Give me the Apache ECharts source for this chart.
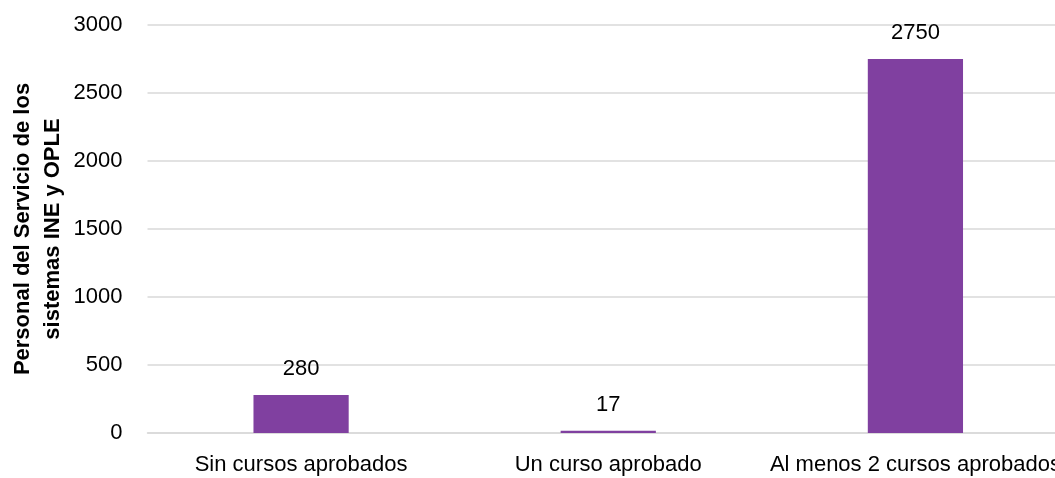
<!DOCTYPE html>
<html>
<head>
<meta charset="utf-8">
<script src="https://cdn.jsdelivr.net/npm/echarts@6/dist/echarts.min.js"></script>
<style>
  html, body { margin: 0; padding: 0; background: #fff; }
  #chart { width: 1055px; height: 478px; }
</style>
</head>
<body>
<div id="chart"></div>
<script>
// datos del grafico
const categorias = ['Sin cursos aprobados', 'Un curso aprobado', 'Al menos 2 cursos aprobados']
const personal = [280, 17, 2750]
const ejeNombre = 'Personal del Servicio de los\nsistemas INE y OPLE'

const fuente = '"Liberation Sans", Arial, sans-serif'

const chart = echarts.init(document.getElementById('chart'), null, { renderer: 'canvas' })

chart.setOption({
  animation: false,
  textStyle: { fontFamily: fuente },
  grid: {
    top: 25,
    left: 147.5,
    right: -14,
    bottom: 45,
    containLabel: false,
    outerBoundsMode: 'none',
  },
  xAxis: {
    type: 'category',
    data: categorias,
    axisLine: { show: true, lineStyle: { color: '#d9d9d9', width: 1.5 } },
    axisTick: { show: false },
    axisLabel: {
      color: '#000',
      fontSize: 22,
      fontFamily: fuente,
      margin: 21,
      interval: 0,
      hideOverlap: false,
    },
  },
  yAxis: {
    type: 'value',
    min: 0,
    max: 3000,
    interval: 500,
    name: ejeNombre,
    nameLocation: 'middle',
    nameRotate: 90,
    nameGap: 80,
    nameMoveOverlap: false,
    nameTextStyle: {
      color: '#000',
      fontSize: 22,
      fontWeight: 'bold',
      fontFamily: fuente,
      lineHeight: 30,
    },
    axisLine: { show: false },
    axisTick: { show: false },
    axisLabel: {
      color: '#000',
      fontSize: 22,
      fontFamily: fuente,
      margin: 25,
      formatter: v => String(v),
    },
    splitLine: { lineStyle: { color: '#d9d9d9', width: 1.5 } },
  },
  series: [{
    type: 'bar',
    data: personal,
    barWidth: '31%',
    itemStyle: { color: '#8040A0' },
    label: {
      show: true,
      position: 'top',
      distance: 15,
      color: '#000',
      fontSize: 22,
      fontFamily: fuente,
    },
  }],
})
</script>
</body>
</html>
